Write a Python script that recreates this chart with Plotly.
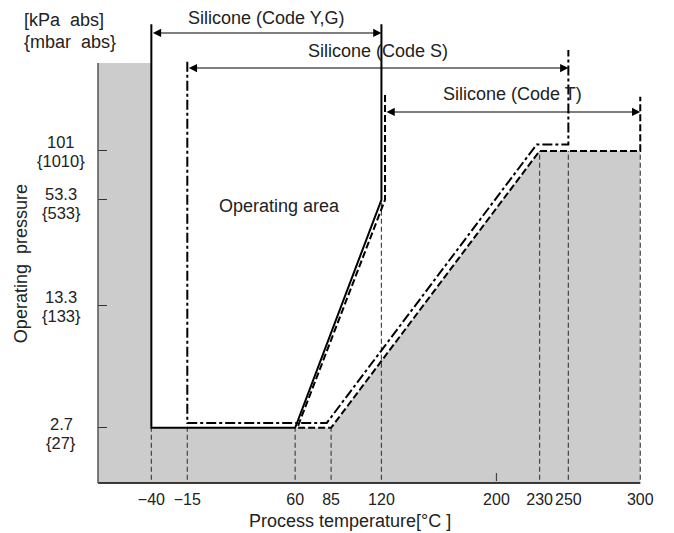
import math
import plotly.graph_objects as go

# ---------------- data ----------------
temp_ticks = [-40, -15, 60, 85, 120, 200, 230, 250, 300]
temp_labels = ["\u221240", "\u221215", "60", "85", "120", "200", "230", "250", "300"]

pressure_kpa = [2.7, 13.3, 53.3, 101]
pressure_kpa_labels = ["2.7", "13.3", "53.3", "101"]
pressure_mbar_labels = ["{27}", "{133}", "{533}", "{1010}"]

# Silicone (Code Y,G) – solid boundary
yg_temp = [-40, -40, 60, 120, 120]
yg_press = [530, 2.7, 2.7, 53.3, 530]

# Silicone (Code S) – dash-dot boundary
s_temp = [-15, -15, 82, 228, 250, 250]
s_press = [324, 2.88, 2.88, 110, 110, 378]

# Silicone (Code T) – dashed boundary
t_temp = [122.5, 122.5, 61.5, 85, 230, 300, 300]
t_press = [210, 53.3, 2.7, 2.7, 101, 101, 205]

# non-operating (grey) region
grey_temp = [-77.1, -40, -40, 85, 230, 300, 300, -77.1]
grey_press = [319, 319, 2.7, 2.7, 101, 101, 1.0, 1.0]

# vertical reference lines (temperature, top pressure)
ref_temp = [-40, -15, 60, 85, 120, 230, 250, 300]
ref_top = [2.7, 2.88, 2.7, 2.7, 53.3, 101, 101, 101]

# temperature ranges of each code (arrows)
ranges = [
    ("Silicone (Code Y,G)", -40, 120),
    ("Silicone (Code S)", -15, 250),
    ("Silicone (Code T)", 122.5, 300),
]

# ---------------- figure ----------------
FONT = "Liberation Sans, Arial, Helvetica, sans-serif"
TXT = "#222222"
FS = 18
TFS = 16.5
XFS = 16

fig = go.Figure()

fig.add_trace(go.Scatter(
    x=grey_temp, y=grey_press, fill="toself", fillcolor="#cccccc",
    line=dict(width=0), mode="lines", hoverinfo="skip", showlegend=False))

rx, ry = [], []
for t, p in zip(ref_temp, ref_top):
    rx += [t, t, None]
    ry += [1.0, p, None]
fig.add_trace(go.Scatter(
    x=rx, y=ry, mode="lines", line=dict(color="#444444", width=1.2, dash="5px,3px"),
    hoverinfo="skip", showlegend=False))

fig.add_trace(go.Scatter(
    x=t_temp, y=t_press, mode="lines",
    line=dict(color="black", width=2, dash="7px,3px"), showlegend=False))
fig.add_trace(go.Scatter(
    x=s_temp, y=s_press, mode="lines",
    line=dict(color="black", width=2, dash="10px,3px,3px,3px"), showlegend=False))
fig.add_trace(go.Scatter(
    x=yg_temp, y=yg_press, mode="lines",
    line=dict(color="black", width=2), showlegend=False))

ann = []

# range arrows and their labels
arrow_y = [0.972, 0.8963, 0.8013]
label_y = [1.0050, 0.932, 0.840]
for (name, t0, t1), ay_, ly in zip(ranges, arrow_y, label_y):
    ann.append(dict(x=t1, y=ay_, xref="x", yref="paper", ax=t0, ay=0,
                    axref="x", ayref="pixel", showarrow=True, text="",
                    arrowside="end+start", arrowhead=2, startarrowhead=2,
                    arrowsize=1.5, startarrowsize=1.5, arrowwidth=1.1,
                    arrowcolor="black", standoff=0, startstandoff=0))
    ann.append(dict(x=(t0 + t1) / 2, y=ly, xref="x", yref="paper",
                    text=name, showarrow=False, xanchor="center", yanchor="middle",
                    font=dict(family=FONT, size=FS, color=TXT)))

# y tick labels (two lines each)
shifts = {2.7: (4, -15), 13.3: (9, -10), 53.3: (6, -13), 101: (9, -10)}
for p, kl, ml in zip(pressure_kpa, pressure_kpa_labels, pressure_mbar_labels):
    s1, s2 = shifts[p]
    for txt, s in ((kl, s1), (ml, s2)):
        ann.append(dict(x=-0.0664, y=math.log10(p), xref="paper", yref="y",
                        text=txt, showarrow=False, xanchor="center",
                        yanchor="middle", yshift=s,
                        font=dict(family=FONT, size=TFS, color=TXT)))

ann.append(dict(x=49, y=0.598, xref="x", yref="paper", text="Operating area",
                showarrow=False, xanchor="center", yanchor="middle",
                font=dict(family=FONT, size=FS, color=TXT)))
ann.append(dict(x=98.4, y=-0.082, xref="x", yref="paper",
                text="Process temperature[°C ]", showarrow=False,
                xanchor="center", yanchor="middle",
                font=dict(family=FONT, size=FS, color=TXT)))
ann.append(dict(x=-0.1364, y=1.0, xref="paper", yref="paper",
                text="[kPa\u00a0 abs]", showarrow=False, xanchor="left",
                yanchor="middle", font=dict(family=FONT, size=FS, color=TXT)))
ann.append(dict(x=-0.1364, y=0.9525, xref="paper", yref="paper",
                text="{mbar\u00a0 abs}", showarrow=False, xanchor="left",
                yanchor="middle", font=dict(family=FONT, size=FS, color=TXT)))
ann.append(dict(x=-0.138, y=0.473, xref="paper", yref="paper",
                text="Operating\u00a0 pressure", showarrow=False, textangle=-90,
                xanchor="center", yanchor="middle",
                font=dict(family=FONT, size=FS, color=TXT)))

shapes = [
    # bottom axis line
    dict(type="line", xref="x", yref="paper", x0=-77.1, x1=300, y0=0, y1=0,
         line=dict(color="black", width=1.5)),
    # left border of grey region
    dict(type="line", xref="paper", yref="paper", x0=0, x1=0, y0=0, y1=0.907,
         line=dict(color="#555555", width=1.5)),
    # small tick at 200
    dict(type="line", xref="x", yref="paper", x0=200, x1=200, y0=0.004, y1=0.0216,
         line=dict(color="#444444", width=1.2)),
]

# the page body adds an 8px offset; margins compensate so the plot area
# lands at x 98..655, y 20..483 in the window
fig.update_layout(
    width=674, height=533,
    margin=dict(l=90, r=27, t=12, b=58, autoexpand=False),
    paper_bgcolor="white", plot_bgcolor="white",
    showlegend=False,
    annotations=ann, shapes=shapes,
    xaxis=dict(range=[-77.1, 310.25], tickvals=temp_ticks, ticktext=temp_labels,
               ticks="", showgrid=False, zeroline=False, showline=False,
               tickangle=0, automargin=False,
               tickfont=dict(family=FONT, size=XFS, color=TXT),
               ticklabelstandoff=5),
    yaxis=dict(type="log", range=[0.118, 2.748], tickvals=pressure_kpa,
               showticklabels=False, ticks="inside", ticklen=9, tickwidth=1.2,
               tickcolor="#333333", showgrid=False, zeroline=False, showline=False,
               automargin=False),
)

fig.write_html("out.html")
